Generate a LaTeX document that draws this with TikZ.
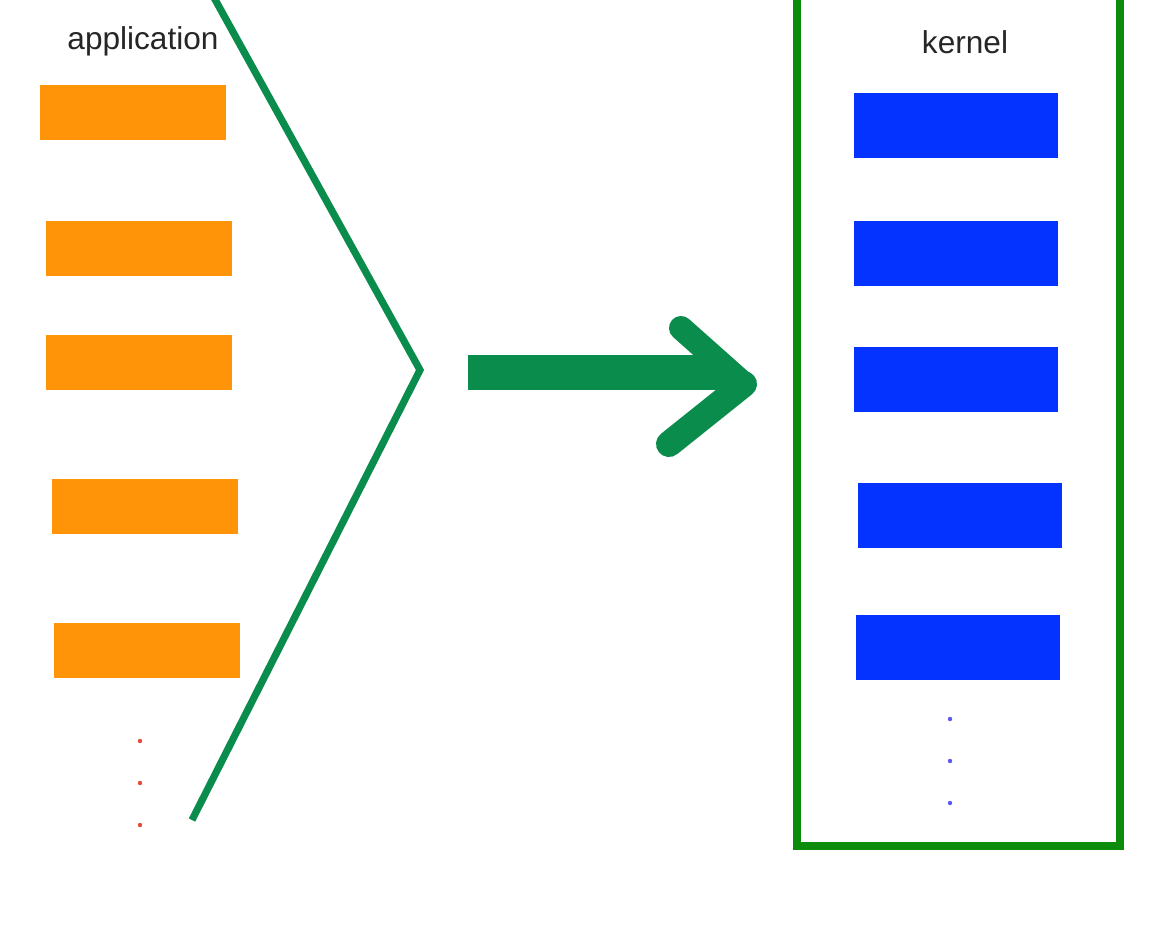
\documentclass[tikz,border=0pt]{standalone}
\usepackage{fontspec}
\setmainfont{Liberation Sans}
\usepackage{tikz}
\usetikzlibrary{arrows}
\definecolor{appcol}{HTML}{FF9408}
\definecolor{kercol}{HTML}{0433FF}
\definecolor{linecol}{HTML}{0A8C4C}
\definecolor{boxcol}{HTML}{0B8C0B}
\definecolor{appdot}{HTML}{E8493E}
\definecolor{kerdot}{HTML}{5A5AF0}

\begin{document}
\begin{tikzpicture}[x=0.5pt, y=-0.5pt,
  appbox/.style={fill=appcol, minimum width=93pt, minimum height=27.5pt, inner sep=0pt},
  kerbox/.style={fill=kercol, minimum width=102pt, minimum height=32.5pt, inner sep=0pt},
  lbl/.style={text=black!85, font=\fontsize{15.8}{19}\selectfont},
  pt/.style={circle, inner sep=0pt, minimum size=2.2pt}]
  \clip (0, 0) rectangle (1153, 928);
  \fill [white] (0, 0) rectangle (1153, 928);
  \node [lbl] (APP) at (143, 41) {application};
  \node [appbox] (A1) at (133, 112.5) {};
  \node [appbox] (A2) at (139, 248.5) {};
  \node [appbox] (A3) at (139, 362.5) {};
  \node [appbox] (A4) at (145, 506.5) {};
  \node [appbox] (A5) at (147, 650.5) {};
  \node [pt, fill=appdot] (AD1) at (140, 741) {};
  \node [pt, fill=appdot] (AD2) at (140, 783) {};
  \node [pt, fill=appdot] (AD3) at (140, 825) {};
  \coordinate (CT) at (212, -6);
  \coordinate (CM) at (420, 370);
  \coordinate (CB) at (192, 820);
  \draw [linecol, line width=3.6pt, line join=miter] (CT) -- (CM) -- (CB);
  \coordinate (AS) at (468, 372.5);
  \coordinate (AE) at (728, 372.5);
  \coordinate (AT) at (744, 384);
  \coordinate (AU) at (681, 328);
  \coordinate (AL) at (669, 444);
  \draw [linecol, line width=17.5pt] (AS) -- (AE);
  \draw [linecol, line width=12pt, line cap=round] (AU) -- (AT);
  \draw [linecol, line width=13pt, line cap=round] (AL) -- (AT);
  \node [draw=boxcol, line width=3.6pt, minimum width=161.5pt, minimum height=428pt, inner sep=0pt] (KB) at (958.5, 418) {};
  \node [lbl] (KER) at (965, 42) {kernel};
  \node [kerbox] (K1) at (956, 125.5) {};
  \node [kerbox] (K2) at (956, 253.5) {};
  \node [kerbox] (K3) at (956, 379.5) {};
  \node [kerbox] (K4) at (960, 515.5) {};
  \node [kerbox] (K5) at (958, 647.5) {};
  \node [pt, fill=kerdot] (KD1) at (950, 719) {};
  \node [pt, fill=kerdot] (KD2) at (950, 761) {};
  \node [pt, fill=kerdot] (KD3) at (950, 803) {};
\end{tikzpicture}
\end{document}
